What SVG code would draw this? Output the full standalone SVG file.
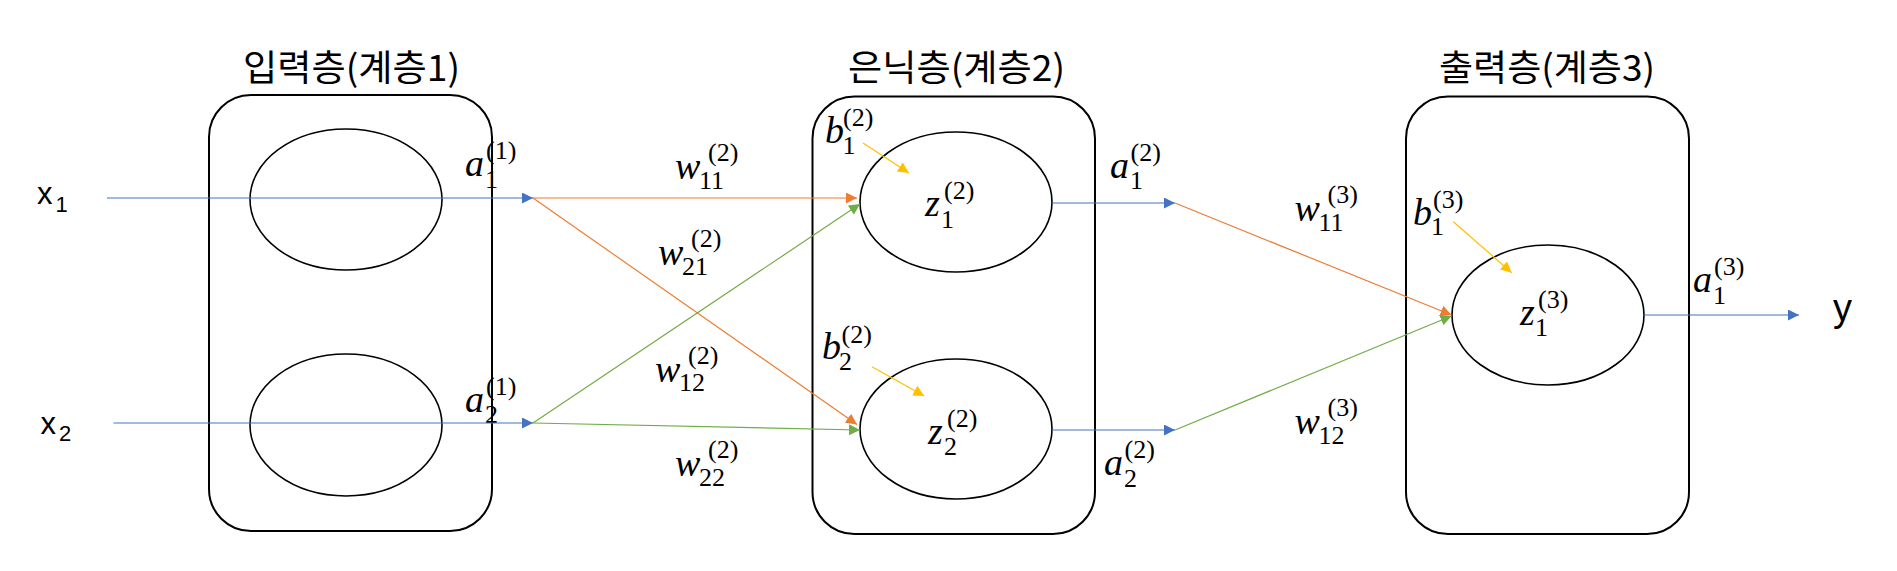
<svg xmlns="http://www.w3.org/2000/svg" width="1897" height="571" viewBox="0 0 1897 571">
<style>
.box{fill:none;stroke:#000;stroke-width:2}
.node{fill:none;stroke:#000;stroke-width:1.6}
.title{font-family:"Noto Sans CJK KR","Noto Sans",sans-serif;font-size:36px;fill:#000}
.m{font-family:"Liberation Serif",serif;font-size:38px;fill:#000}
.it{font-style:italic}
.s{font-size:26px;font-style:normal}
.sans{font-family:"Liberation Sans","Noto Sans",sans-serif;fill:#000}
.c{fill:none;stroke-width:1.2}
.blue{stroke:#4472C4}
.orange{stroke:#ED7D31}
.green{stroke:#70AD47}
.yellow{stroke:#FFC000}
</style>
<defs>
<marker id="ab" markerUnits="userSpaceOnUse" markerWidth="12" markerHeight="12" refX="11" refY="5.5" orient="auto"><path d="M0,0 L11,5.5 L0,11 z" fill="#4472C4"/></marker>
<marker id="ao" markerUnits="userSpaceOnUse" markerWidth="12" markerHeight="12" refX="11" refY="5.5" orient="auto"><path d="M0,0 L11,5.5 L0,11 z" fill="#ED7D31"/></marker>
<marker id="ag" markerUnits="userSpaceOnUse" markerWidth="12" markerHeight="12" refX="11" refY="5.5" orient="auto"><path d="M0,0 L11,5.5 L0,11 z" fill="#70AD47"/></marker>
<marker id="ay" markerUnits="userSpaceOnUse" markerWidth="12" markerHeight="12" refX="11" refY="5.5" orient="auto"><path d="M0,0 L11,5.5 L0,11 z" fill="#FFC000"/></marker>
</defs>
<rect width="1897" height="571" fill="#fff"/>

<g id="layer1">
<text class="title" x="243" y="81" textLength="217" lengthAdjust="spacingAndGlyphs">입력층(계층1)</text>
<rect class="box" x="209" y="95" width="283" height="436" rx="42" ry="42"/>
</g>
<g id="layer2">
<text class="title" x="848" y="81" textLength="217" lengthAdjust="spacingAndGlyphs">은닉층(계층2)</text>
<rect class="box" x="812.5" y="96.5" width="282.5" height="437.5" rx="42" ry="42"/>
</g>
<g id="layer3">
<text class="title" x="1439" y="81" textLength="216" lengthAdjust="spacingAndGlyphs">출력층(계층3)</text>
<rect class="box" x="1406" y="96.5" width="283" height="437.5" rx="42" ry="42"/>
</g>

<g id="input1"><ellipse class="node" cx="346" cy="199.5" rx="96" ry="70.5"/></g>
<g id="input2"><ellipse class="node" cx="346" cy="425" rx="96" ry="71"/></g>
<g id="hidden1"><ellipse class="node" cx="956" cy="202" rx="96" ry="70"/>
<text class="m"><tspan class="it" x="925" y="216">z</tspan><tspan class="s" x="941" y="227.5">1</tspan><tspan class="s" x="944" y="199">(2)</tspan></text></g>
<g id="hidden2"><ellipse class="node" cx="956" cy="429" rx="96" ry="70"/>
<text class="m"><tspan class="it" x="928" y="443.5">z</tspan><tspan class="s" x="944" y="455">2</tspan><tspan class="s" x="947" y="426.5">(2)</tspan></text></g>
<g id="output1"><ellipse class="node" cx="1548" cy="315" rx="96" ry="70"/>
<text class="m"><tspan class="it" x="1520" y="325">z</tspan><tspan class="s" x="1535" y="336">1</tspan><tspan class="s" x="1538" y="308">(3)</tspan></text></g>

<g id="in-x1"><text class="sans" x="37" y="204" font-size="31">x<tspan x="55.5" y="211.5" font-size="22">1</tspan></text></g>
<g id="in-x2"><text class="sans" x="40.5" y="433.5" font-size="31">x<tspan x="59" y="441" font-size="22">2</tspan></text></g>
<g id="out-y"><text class="sans" x="1833" y="321" font-size="38">y</text></g>

<g id="labels">
<text class="m"><tspan class="it" x="465" y="176">a</tspan><tspan class="s" x="485" y="187.5">1</tspan><tspan class="s" x="486" y="159">(1)</tspan></text>
<text class="m"><tspan class="it" x="465" y="411.5">a</tspan><tspan class="s" x="485" y="423">2</tspan><tspan class="s" x="486" y="395">(1)</tspan></text>
<text class="m"><tspan class="it" x="675" y="179">w</tspan><tspan class="s" x="699" y="188.5">11</tspan><tspan class="s" x="708" y="161">(2)</tspan></text>
<text class="m"><tspan class="it" x="658" y="265">w</tspan><tspan class="s" x="682" y="275">21</tspan><tspan class="s" x="691" y="247">(2)</tspan></text>
<text class="m"><tspan class="it" x="655" y="381.5">w</tspan><tspan class="s" x="679" y="391">12</tspan><tspan class="s" x="688" y="363.5">(2)</tspan></text>
<text class="m"><tspan class="it" x="675" y="476">w</tspan><tspan class="s" x="699" y="486">22</tspan><tspan class="s" x="708" y="458">(2)</tspan></text>
<text class="m"><tspan class="it" x="825" y="142.7">b</tspan><tspan class="s" x="842.5" y="153.5">1</tspan><tspan class="s" x="843" y="126">(2)</tspan></text>
<text class="m"><tspan class="it" x="822" y="359.3">b</tspan><tspan class="s" x="839" y="370">2</tspan><tspan class="s" x="841.5" y="343">(2)</tspan></text>
<text class="m"><tspan class="it" x="1110" y="177.5">a</tspan><tspan class="s" x="1130" y="189">1</tspan><tspan class="s" x="1130.5" y="160.5">(2)</tspan></text>
<text class="m"><tspan class="it" x="1104" y="475">a</tspan><tspan class="s" x="1124" y="486.5">2</tspan><tspan class="s" x="1124.5" y="458">(2)</tspan></text>
<text class="m"><tspan class="it" x="1294.5" y="221">w</tspan><tspan class="s" x="1318.5" y="231">11</tspan><tspan class="s" x="1327.5" y="203">(3)</tspan></text>
<text class="m"><tspan class="it" x="1294.5" y="434">w</tspan><tspan class="s" x="1318.5" y="444">12</tspan><tspan class="s" x="1327.5" y="416">(3)</tspan></text>
<text class="m"><tspan class="it" x="1413" y="225">b</tspan><tspan class="s" x="1431" y="234.5">1</tspan><tspan class="s" x="1433" y="207.5">(3)</tspan></text>
<text class="m"><tspan class="it" x="1693" y="292">a</tspan><tspan class="s" x="1713" y="303.5">1</tspan><tspan class="s" x="1714" y="275">(3)</tspan></text>
</g>

<g id="connectors">
<line class="c blue" x1="107" y1="198" x2="533" y2="198" marker-end="url(#ab)"/>
<line class="c blue" x1="113.5" y1="423" x2="533" y2="423" marker-end="url(#ab)"/>
<line class="c blue" x1="1052" y1="203" x2="1175" y2="203" marker-end="url(#ab)"/>
<line class="c blue" x1="1052" y1="430" x2="1175" y2="430" marker-end="url(#ab)"/>
<line class="c blue" x1="1644" y1="315" x2="1799" y2="315" marker-end="url(#ab)"/>
<line class="c orange" x1="533" y1="198" x2="857" y2="198" marker-end="url(#ao)"/>
<line class="c orange" x1="533" y1="198" x2="857" y2="424.5" marker-end="url(#ao)"/>
<line class="c orange" x1="1175" y1="203" x2="1451.5" y2="315" marker-end="url(#ao)"/>
<line class="c green" x1="533" y1="423" x2="860" y2="204" marker-end="url(#ag)"/>
<line class="c green" x1="533" y1="423" x2="860" y2="430" marker-end="url(#ag)"/>
<line class="c green" x1="1175" y1="430" x2="1451.5" y2="316" marker-end="url(#ag)"/>
<line class="c yellow" x1="863" y1="143" x2="909" y2="173" marker-end="url(#ay)"/>
<line class="c yellow" x1="872" y1="366.7" x2="924.3" y2="396" marker-end="url(#ay)"/>
<line class="c yellow" x1="1453.3" y1="221.7" x2="1511.7" y2="272.7" marker-end="url(#ay)"/>
</g>
</svg>
